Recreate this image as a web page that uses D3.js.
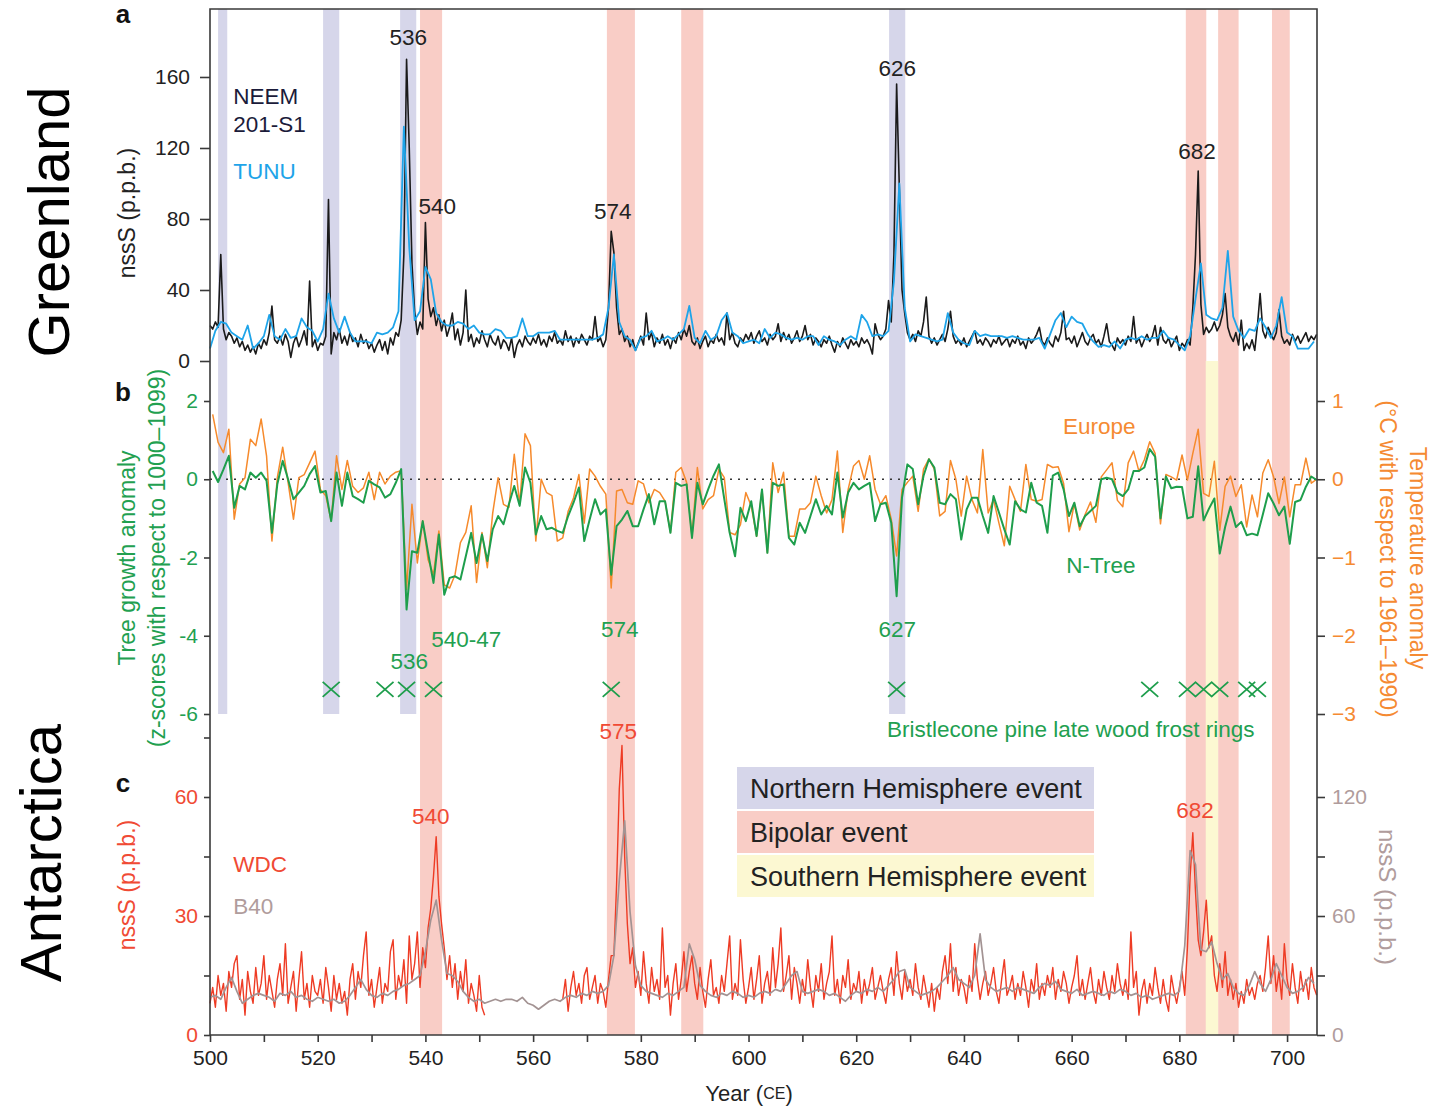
<!DOCTYPE html>
<html>
<head>
<meta charset="utf-8">
<script src="https://cdn.jsdelivr.net/npm/d3@7/dist/d3.min.js"></script>
<style>
  body { margin: 0; background: #fff; }
  svg text { font-family: "Liberation Sans", Arial, Helvetica, sans-serif; }
</style>
</head>
<body>
<script>
(function (d3) {
  "use strict";

  /***** Data *****/
  // Greenland nssS (p.p.b.), NEEM 201-S1, two samples per year from 500 CE
  var neemStart = 500, neemStep = 0.5;
  var neem = [
    20, 18, 22, 19, 60, 18, 12, 16, 14, 10,
    13, 8, 11, 6, 9, 5, 8, 4, 10, 7,
    12, 9, 16, 31, 12, 10, 14, 9, 15, 11,
    2, 10, 14, 8, 12, 17, 9, 45, 8, 12,
    6, 10, 9, 14, 91, 4, 16, 12, 18, 10,
    14, 9, 16, 11, 13, 8, 15, 10, 12, 7,
    10, 5, 9, 12, 6, 11, 4, 13, 9, 16,
    14, 23, 60, 170, 120, 55, 28, 15, 22, 18,
    78, 35, 25, 30, 20, 26, 17, 23, 14, 19,
    27, 12, 18, 9, 16, 40, 11, 15, 8, 13,
    10, 17, 12, 8, 15, 11, 9, 14, 7, 12,
    10, 6, 13, 2, 9, 12, 8, 14, 11, 9,
    13, 10, 15, 9, 12, 8, 14, 11, 16, 10,
    12, 9, 17, 11, 14, 8, 13, 10, 15, 12,
    9, 14, 12, 25, 11, 13, 8, 12, 30, 73,
    61, 30, 15, 18, 11, 14, 8, 12, 6, 10,
    14, 9, 27, 12, 16, 8, 13, 10, 15, 9,
    12, 7, 13, 10, 16, 12, 18, 14, 20, 11,
    9, 13, 7, 11, 14, 8, 12, 10, 15, 11,
    13, 9, 27, 12, 16, 10, 8, 13, 11, 15,
    12, 16, 10, 14, 17, 11, 13, 9, 15, 12,
    14, 21, 11, 16, 12, 15, 10, 13, 17, 11,
    14, 20, 12, 15, 9, 13, 11, 8, 12, 10,
    14, 9, 5, 11, 8, 13, 10, 7, 12, 9,
    11, 8, 13, 10, 12, 9, 4, 21, 15, 12,
    14, 18, 34, 22, 60, 156, 98, 40, 27, 16,
    12, 15, 11, 17, 14, 22, 36, 14, 10, 13,
    9, 12, 15, 11, 18, 28, 14, 10, 12, 9,
    13, 8, 11, 14, 17, 10, 12, 9, 13, 11,
    8, 12, 10, 14, 9, 11, 13, 8, 12, 10,
    14, 9, 11, 7, 13, 10, 12, 15, 19, 11,
    9, 13, 10, 8, 14, 11, 16, 28, 12, 13,
    10, 14, 8, 12, 16, 11, 9, 13, 15, 10,
    12, 8, 14, 21, 11, 9, 6, 13, 10, 12,
    9, 14, 11, 25, 10, 13, 8, 12, 15, 11,
    14, 20, 9, 19, 12, 10, 13, 8, 11, 14,
    6, 10, 8, 12, 9, 30, 60, 107, 32, 15,
    19, 16, 18, 22, 17, 20, 26, 38, 19, 14,
    11, 16, 9, 23, 6, 10, 7, 12, 6, 20,
    38, 17, 13, 19, 15, 12, 16, 29, 14, 10,
    12, 9, 15, 11, 14, 10, 13, 16, 11, 14, 12, 15
  ];

  // Greenland nssS (p.p.b.), TUNU, annual from 500 CE
  var tunuStart = 500;
  var tunu = [
    7, 17, 22, 21, 16, 14, 12, 20, 7, 10,
    14, 26, 14, 12, 18, 13, 14, 24, 19, 17,
    11, 18, 38, 24, 16, 25, 16, 11, 11, 11,
    10, 16, 15, 16, 19, 28, 132, 64, 23, 28,
    53, 46, 27, 22, 20, 20, 22, 21, 18, 20,
    16, 15, 15, 18, 17, 13, 13, 14, 24, 14,
    14, 16, 16, 16, 17, 12, 12, 12, 12, 12,
    12, 12, 13, 15, 30, 60, 22, 14, 12, 6,
    13, 14, 17, 11, 12, 14, 12, 15, 18, 31,
    13, 10, 17, 12, 14, 23, 27, 16, 14, 10,
    11, 12, 10, 18, 13, 16, 15, 13, 12, 13,
    12, 14, 14, 9, 14, 12, 11, 9, 12, 14,
    12, 26, 22, 14, 15, 14, 17, 45, 100, 30,
    11, 15, 14, 13, 12, 11, 12, 27, 16, 12,
    10, 9, 17, 14, 15, 14, 14, 14, 13, 14,
    13, 12, 12, 12, 13, 7, 15, 23, 27, 19,
    25, 22, 21, 15, 11, 8, 9, 8, 11, 7,
    12, 13, 12, 14, 12, 13, 13, 17, 13, 12,
    9, 6, 14, 35, 55, 26, 24, 23, 30, 62,
    25, 17, 13, 18, 17, 24, 19, 13, 20, 36,
    16, 14, 7, 7, 7, 11
  ];

  // N-Tree growth anomaly (z-scores), annual from 500 CE
  var treeStart = 500;
  var nTree = [
    0.21, -0.07, 0.25, 0.6, -0.73, -0.17, -0.26, 0.17, 0.04, 0.17,
    -0.04, -1.37, -0.13, 0.47, 0, -0.51, -0.34, -0.17, 0.13, 0.34,
    -0.34, -0.3, -1.07, 0.17, -0.68, 0.17, -0.43, -0.51, -0.6, -0.04,
    -0.13, -0.21, -0.47, -0.38, -0.09, 0.26, -3.33, -1.84, -1.88, -1.07,
    -1.88, -2.65, -1.41, -2.95, -2.52, -2.48, -2.56, -1.97, -1.37, -2.14,
    -1.41, -2.09, -1.28, -0.94, -1.15, -0.64, -0.17, -0.68, 0.3, -0.09,
    -1.41, -0.94, -1.28, -1.24, -1.32, -1.37, -0.94, -0.6, -0.21, -1.58,
    -1.03, -0.51, -0.9, -0.77, -2.44, -1.2, -1.03, -0.81, -1.2, -1.2,
    -0.77, -0.38, -1.15, -0.56, -0.56, -1.37, -0.09, -0.17, -0.13, -1.5,
    -0.09, -0.64, -0.26, 0.09, 0.38, -0.51, -1.37, -1.97, -0.73, -1.07,
    -0.56, -1.45, -0.26, -1.88, -0.09, -0.17, -0.13, -1.5, -1.67, -1.11,
    -1.37, -0.94, -0.51, -0.9, -0.68, -0.9, 0.17, -0.98, -0.34, -0.09,
    -0.26, -0.17, -0.09, -1.07, -0.64, -0.6, -1.11, -2.99, -0.47, 0.38,
    0.26, -0.64, 0.09, 0.51, 0.3, -0.6, -0.64, -0.38, -0.51, -1.54,
    -0.77, -0.47, -0.47, -0.94, -1.37, -0.43, -0.85, -1.28, -1.67, -0.56,
    -0.77, -0.85, -0.09, -0.6, -0.68, -1.37, 0.09, 0.17, -0.26, -0.94,
    -0.6, -1.2, -0.94, -0.81, -0.68, 0, 0.04, 0, -0.34, -0.43,
    -0.26, 0.21, 0.21, 0.3, 0.77, 0.58, -1.0, 0.07, -0.23, -0.19,
    -0.2, -1.0, -0.96, 0.33, -1.05, -0.75, -0.49, -1.9, -1.22, -0.7,
    -1.22, -1.09, -1.43, -1.39, -1.43, -0.9, -0.36, -0.62, -0.92, -0.7,
    -1.65, -0.58, -0.53, -0.19, 0.07, -0.02
  ];

  // Europe temperature anomaly (degC), annual from 500 CE
  var europe = [
    0.83, 0.47, 0.34, 0.64, -0.51, -0.06, 0.02, 0.51, 0.43, 0.77,
    0.3, -0.79, 0.02, 0.41, -0.04, -0.51, 0.02, 0.06, 0.21, 0.36,
    -0.13, -0.21, -0.53, 0.3, -0.13, 0.24, -0.09, -0.17, -0.11, 0.09,
    -0.26, 0.09, -0.06, 0.04, 0.09, 0.11, -1.41, -0.32, -1.07, -0.53,
    -1.03, -1.22, -0.66, -1.35, -1.39, -1.22, -0.81, -0.68, -0.34, -1.32,
    -0.68, -1.13, -0.43, 0.02, -0.32, -0.36, 0.32, -0.32, 0.58, 0.43,
    -0.79, 0, -0.17, -0.21, -0.79, -0.75, -0.41, -0.24, 0.06, -0.56,
    0.13, 0.04, -0.09, -0.19, -1.39, -0.15, -0.13, -0.3, -0.32, -0.02,
    -0.06, -0.3, -0.13, -0.17, -0.28, -0.68, 0.09, 0.15, -0.04, -0.73,
    0.15, -0.38, -0.26, -0.21, 0.13, 0.02, -0.68, -0.71, -0.58, -0.17,
    -0.34, -0.73, -0.13, -0.94, 0.21, -0.17, 0.09, -0.73, -0.73, -0.38,
    -0.38, -0.3, 0.04, -0.21, -0.43, -0.26, 0.36, -0.68, -0.13, 0.17,
    0.24, 0, 0.3, -0.13, -0.32, -0.21, -0.51, -0.98, -0.13, -0.04,
    0.04, -0.41, 0.13, 0.26, 0.13, -0.47, -0.41, 0.24, 0, -0.47,
    0.04, -0.26, -0.43, 0.38, -0.43, -0.26, -0.56, -0.85, -0.09, -0.26,
    -0.41, 0.19, -0.26, -0.28, -0.26, 0.19, 0.15, 0.16, -0.05, -0.67,
    -0.31, -0.65, -0.45, -0.29, -0.55, 0.03, 0.12, 0.21, -0.27, -0.35,
    0.21, 0.36, 0.1, 0.25, 0.48, 0.33, -0.57, 0.06, 0.03, -0.01,
    0.31, -0.01, 0.33, 0.64, -0.18, -0.22, 0.23, -0.65, -0.09, 0.04,
    -0.22, -0.07, -0.61, -0.2, -0.48, 0.08, 0.25, 0.03, -0.31, 0.03,
    -0.48, -0.07, -0.07, 0.27, -0.05, 0
  ];

  // Antarctica nssS (p.p.b.), WDC, two samples per year from 500 CE (gap 551-565)
  var wdcStart = 500, wdcStep = 0.5;
  var wdc = [
    8, 12, 7, 15, 10, 13, 6, 16, 12, 18,
    20, 9, 14, 5, 16, 11, 8, 17, 10, 13,
    20, 9, 15, 11, 7, 14, 18, 10, 23, 8,
    12, 16, 6, 14, 21, 9, 13, 7, 15, 11,
    10, 14, 8, 17, 12, 6, 15, 9, 13, 8,
    11, 5, 14, 18, 9, 16, 12, 20, 26, 10,
    14, 7, 12, 17, 8, 13, 11, 21, 24, 9,
    15, 12, 19, 8, 25, 14, 18, 26, 12, 22,
    17, 27, 32, 40, 50, 35, 28, 22, 14, 20,
    12, 18, 9, 16, 11, 19, 8, 13, 10, 6,
    15, 7, 5, null, null, null, null, null, null, null,
    null, null, null, null, null, null, null, null, null, null,
    null, null, null, null, null, null, null, null, null, null,
    null, 9, 14, 6, 12, 16, 10, 13, 8, 15,
    17, 9, 12, 15, 8, 13, 11, 7, 14, 20,
    20, 38, 62, 73, 45, 28, 18, 22, 12, 16,
    10, 21, 13, 8, 17, 11, 14, 9, 27, 12,
    15, 5, 13, 18, 9, 14, 21, 11, 16, 20,
    13, 9, 17, 11, 7, 14, 19, 10, 12, 8,
    15, 11, 18, 25, 9, 13, 10, 24, 14, 8,
    12, 17, 9, 14, 20, 8, 13, 16, 10, 22,
    12, 18, 27, 11, 15, 20, 9, 17, 13, 8,
    14, 10, 19, 12, 7, 15, 11, 18, 9, 13,
    16, 25, 10, 14, 8, 15, 12, 19, 9, 13,
    11, 16, 8, 14, 10, 13, 17, 9, 12, 15,
    11, 8, 14, 17, 10, 21, 13, 9, 16, 11,
    14, 10, 18, 12, 9, 15, 11, 7, 13, 6,
    12, 9, 16, 20, 13, 23, 11, 17, 10, 14,
    12, 8, 15, 11, 23, 14, 9, 13, 16, 10,
    13, 17, 11, 8, 14, 19, 10, 12, 15, 9,
    13, 10, 16, 12, 7, 14, 11, 18, 9, 13,
    10, 15, 12, 17, 9, 14, 11, 16, 13, 8,
    12, 15, 20, 10, 14, 9, 13, 17, 11, 8,
    14, 10, 16, 12, 9, 15, 11, 18, 13, 10,
    14, 9, 26, 12, 16, 5, 11, 14, 8, 13,
    10, 17, 12, 8, 14, 9, 6, 15, 11, 8,
    12, 16, 10, 22, 40, 51, 36, 24, 20, 26,
    34, 22, 25, 15, 11, 18, 12, 21, 10, 14,
    9, 13, 7, 11, 8, 14, 10, 12, 9, 13,
    15, 11, 17, 25, 13, 20, 11, 16, 9, 23,
    14, 10, 18, 12, 8, 16, 11, 14, 9, 17, 12, 10
  ];

  // Antarctica nssS (p.p.b.), B40 (right axis), annual from 500 CE
  var b40Start = 500;
  var b40 = [
    19, 20, 18, 24, 29, 22, 16, 18, 20, 21,
    20, 19, 17, 21, 20, 22, 19, 20, 18, 17,
    19, 18, 17, 18, 16, 17, 20, 24, 28, 23,
    20, 19, 21, 20, 22, 23, 25, 26, 28, 30,
    42, 58, 68, 48, 31, 30, 27, 22, 19, 17,
    18, 16, 17, 18, 17, 18, 18, 17, 19, 16,
    15, 13, 15, 17, 18, 17, 19, 20, 19, 21,
    20, 22, 21, 22, 25, 40, 78, 108, 62, 35,
    25, 22, 21, 20, 19, 21, 20, 22, 24, 46,
    38, 25, 22, 20, 19, 21, 20, 22, 21, 19,
    20, 19, 21, 22, 21, 23, 22, 26, 30, 32,
    22, 21, 22, 23, 22, 20, 21, 19, 17, 20,
    22, 21, 23, 22, 24, 22, 25, 28, 32, 33,
    24, 22, 20, 21, 22, 24, 27, 30, 34, 28,
    26, 24, 30, 51, 28, 24, 22, 23, 24, 22,
    24, 23, 22, 21, 24, 26, 25, 27, 23, 22,
    21, 23, 20, 21, 22, 21, 20, 22, 21, 23,
    22, 20, 21, 19, 20, 18, 19, 20, 21, 20,
    22, 45, 93, 86, 43, 42, 47, 36, 28, 31,
    24, 21, 20, 25, 32, 26, 22, 28, 36, 30,
    24, 21, 22, 24, 29, 26
  ];

  // event bands [from, to] in years CE
  var nhBands = [[501.5, 503.2], [521, 524], [535.3, 538.3], [626.1, 629.1]];
  var bipolarBands = [[539, 543.1], [573.7, 578.9], [587.5, 591.6], [681.2, 685], [687.2, 691], [697.2, 700.5]];
  var shBands = [[684.9, 687.2]];

  // bristlecone pine late wood frost rings
  var frostYears = [522, 532, 536, 541, 574, 627, 674, 681, 684, 687, 692, 694];

  // peak annotations (year, value in each panel's units)
  var greenlandPeaks = [
    { label: "536", year: 536.8, value: 182 },
    { label: "540", year: 542.2, value: 87 },
    { label: "574", year: 574.8, value: 84 },
    { label: "626", year: 627.6, value: 164.5 },
    { label: "682", year: 683.3, value: 118 }
  ];
  var treeNotes = [
    { label: "536", year: 537, value: -4.65 },
    { label: "540-47", year: 547.6, value: -4.09 },
    { label: "574", year: 576.1, value: -3.84 },
    { label: "627", year: 627.6, value: -3.84 }
  ];
  var antarcticPeaks = [
    { label: "540", year: 541, value: 55 },
    { label: "575", year: 575.8, value: 76.4 },
    { label: "682", year: 682.9, value: 56.5 }
  ];

  var legendLabels = ["Northern Hemisphere event", "Bipolar event", "Southern Hemisphere event"];

  var xTicks = d3.range(500, 701, 10);
  var yATicks = [0, 40, 80, 120, 160];
  var yBTicks = [2, 0, -2, -4, -6];
  var yBTTicks = [1, 0, -1, -2, -3];
  var yCTicks = [0, 15, 30, 45, 60, 75];
  var yCRTicks = [0, 30, 60, 90, 120];

  /***** Configuration *****/
  var W = 1439, H = 1106;
  var margin = { top: 9, right: 122, bottom: 71, left: 210 };
  var annualOffset = 0.5; // tree-ring annual values plotted at mid-year
  var font = "'Liberation Sans', Arial, Helvetica, sans-serif";
  var noteSize = 22.5;

  var colors = {
    nh: "#d6d6ea", bipolar: "#f9cdc6", sh: "#fcf8d2",
    neem: "#1a1a1a", tunu: "#1ea4e9", europe: "#f68a2c", tree: "#1e9e4c",
    wdc: "#ee3b24", b40: "#a39393", axis: "#3a3a3a", text: "#222",
    treeText: "#22a050", europeText: "#f58a32", wdcText: "#f04a34", b40Text: "#b09c9c"
  };

  /***** Scales *****/
  var x = d3.scaleLinear().domain([500, 705.56]).range([margin.left, W - margin.right]);
  var yA = d3.scaleLinear().domain([0, 198.3]).range([361, margin.top]);
  var yB = d3.scaleLinear().domain([-6, 2]).range([714, 401]);
  var yBT = d3.scaleLinear().domain([-3, 1]).range([714, 401]);
  var yC = d3.scaleLinear().domain([0, 60]).range([H - margin.bottom, 797]);
  var yCR = d3.scaleLinear().domain([0, 120]).range([H - margin.bottom, 797]);

  var svg = d3.select("body").append("svg")
    .attr("width", W).attr("height", H)
    .style("font-family", font);

  /***** Event bands *****/
  var bands = svg.append("g");
  bands.selectAll(".nh").data(nhBands).enter().append("rect")
    .attr("x", function (d) { return x(d[0]); })
    .attr("width", function (d) { return x(d[1]) - x(d[0]); })
    .attr("y", yA(198.3))
    .attr("height", yB(-6) - yA(198.3))
    .attr("fill", colors.nh);
  bands.selectAll(".bi").data(bipolarBands).enter().append("rect")
    .attr("x", function (d) { return x(d[0]); })
    .attr("width", function (d) { return x(d[1]) - x(d[0]); })
    .attr("y", yA(198.3))
    .attr("height", yC(0) - yA(198.3))
    .attr("fill", colors.bipolar);
  bands.selectAll(".sh").data(shBands).enter().append("rect")
    .attr("x", function (d) { return x(d[0]); })
    .attr("width", function (d) { return x(d[1]) - x(d[0]); })
    .attr("y", yA(0))
    .attr("height", yC(0) - yA(0))
    .attr("fill", colors.sh);

  /***** Series helpers *****/
  function toSeries(values, start, step, offset) {
    return values.map(function (v, i) { return { year: start + i * step + offset, value: v }; });
  }
  function drawLine(data, yScale, color, width) {
    var line = d3.line()
      .defined(function (d) { return d.value !== null; })
      .x(function (d) { return x(d.year); })
      .y(function (d) { return yScale(d.value); });
    svg.append("path").datum(data)
      .attr("d", line)
      .attr("fill", "none")
      .attr("stroke", color)
      .attr("stroke-width", width)
      .attr("stroke-linejoin", "round");
  }

  // zero line of panel b
  svg.append("line")
    .attr("x1", x(500)).attr("x2", x(705.56))
    .attr("y1", yB(0)).attr("y2", yB(0))
    .attr("stroke", "#333").attr("stroke-width", 1.6)
    .attr("stroke-dasharray", "2,6");

  /***** Panel a: Greenland *****/
  drawLine(toSeries(neem, neemStart, neemStep, 0), yA, colors.neem, 1.6);
  drawLine(toSeries(tunu, tunuStart, 1, 0), yA, colors.tunu, 1.8);

  /***** Panel b: trees *****/
  drawLine(toSeries(europe, treeStart, 1, annualOffset), yBT, colors.europe, 1.5);
  drawLine(toSeries(nTree, treeStart, 1, annualOffset), yB, colors.tree, 2);

  svg.append("g").selectAll("path").data(frostYears).enter().append("path")
    .attr("transform", function (d) { return "translate(" + x(d + annualOffset) + "," + yB(-5.37) + ")"; })
    .attr("d", "M-8.5,-7.5L8.5,7.5M-8.5,7.5L8.5,-7.5")
    .attr("stroke", colors.tree).attr("stroke-width", 1.8).attr("fill", "none");

  /***** Panel c: Antarctica *****/
  drawLine(toSeries(wdc, wdcStart, wdcStep, 0), yC, colors.wdc, 1.4);
  drawLine(toSeries(b40, b40Start, 1, 0), yCR, colors.b40, 1.7);

  /***** Frame and axes *****/
  svg.append("path")
    .attr("d", "M" + x.range()[0] + "," + yC(0) + "V" + yA(198.3) + "H" + x.range()[1] + "V" + yC(0))
    .attr("fill", "none").attr("stroke", colors.axis).attr("stroke-width", 1.6);

  function styleAxis(g, color) {
    g.attr("font-family", font).attr("font-size", 21);
    g.select(".domain").remove();
    g.selectAll(".tick line").attr("stroke", colors.axis).attr("stroke-width", 1.6);
    g.selectAll(".tick text").attr("fill", color);
  }

  svg.append("g").attr("transform", "translate(" + margin.left + ",0)")
    .call(d3.axisLeft(yA).tickValues(yATicks).tickSize(10).tickPadding(10))
    .call(styleAxis, colors.text);
  svg.append("g").attr("transform", "translate(" + margin.left + ",0)")
    .call(d3.axisLeft(yB).tickValues(yBTicks).tickSize(6).tickPadding(6)
      .tickFormat(function (d) { return String(d); }))
    .call(styleAxis, colors.treeText);
  svg.append("g").attr("transform", "translate(" + margin.left + ",0)")
    .call(d3.axisLeft(yC).tickValues(yCTicks).tickSize(6).tickPadding(6)
      .tickFormat(function (d) { return d % 30 === 0 ? d : ""; }))
    .call(styleAxis, colors.wdcText);

  var right = W - margin.right;
  svg.append("g").attr("transform", "translate(" + right + ",0)")
    .call(d3.axisRight(yBT).tickValues(yBTTicks).tickSize(8).tickPadding(7)
      .tickFormat(function (d) { return d < 0 ? "\u2212" + Math.abs(d) : d; }))
    .call(styleAxis, colors.europeText);
  svg.append("g").attr("transform", "translate(" + right + ",0)")
    .call(d3.axisRight(yCR).tickValues(yCRTicks).tickSize(8).tickPadding(7)
      .tickFormat(function (d) { return d % 60 === 0 ? d : ""; }))
    .call(styleAxis, colors.b40Text);

  svg.append("g").attr("transform", "translate(0," + yC(0) + ")")
    .call(d3.axisBottom(x).tickValues(xTicks).tickSize(7).tickPadding(8)
      .tickFormat(function (d) { return d % 20 === 0 ? d : ""; }))
    .call(styleAxis, colors.text);

  svg.append("line")
    .attr("x1", x.range()[0]).attr("x2", x.range()[1])
    .attr("y1", yC(0)).attr("y2", yC(0))
    .attr("stroke", colors.axis).attr("stroke-width", 1.6);

  /***** Text *****/
  function label(txt, px, py, opts) {
    opts = opts || {};
    var t = svg.append("text")
      .attr("x", px).attr("y", py)
      .attr("fill", opts.color || colors.text)
      .attr("font-size", opts.size || noteSize)
      .attr("font-weight", opts.weight || "normal")
      .attr("text-anchor", opts.anchor || "start")
      .attr("dominant-baseline", "central")
      .text(txt);
    if (opts.rotate) {
      t.attr("x", 0).attr("y", 0)
        .attr("transform", "translate(" + px + "," + py + ") rotate(" + opts.rotate + ")");
    }
    return t;
  }

  // region titles
  label("Greenland", 48, 222, { size: 58, anchor: "middle", rotate: -90, color: "#000" });
  label("Antarctica", 40, 853, { size: 58, anchor: "middle", rotate: -90, color: "#000" });

  // panel letters
  label("a", 123, 14, { size: 26, weight: "bold", anchor: "middle", color: "#111" });
  label("b", 123, 392, { size: 26, weight: "bold", anchor: "middle", color: "#111" });
  label("c", 123, 783, { size: 26, weight: "bold", anchor: "middle", color: "#111" });

  // axis titles
  label("nssS (p.p.b.)", 127, 213, { size: 23, anchor: "middle", rotate: -90, color: colors.text });
  label("Tree growth anomaly", 127, 558, { size: 23, anchor: "middle", rotate: -90, color: colors.treeText });
  label("(z-scores with respect to 1000\u20131099)", 157, 558, { size: 23, anchor: "middle", rotate: -90, color: colors.treeText });
  label("nssS (p.p.b.)", 127, 885, { size: 23, anchor: "middle", rotate: -90, color: colors.wdcText });
  label("Temperature anomaly", 1418, 558, { size: 23, anchor: "middle", rotate: 90, color: colors.europeText });
  label("(\u00b0C with respect to 1961\u20131990)", 1388, 559, { size: 23, anchor: "middle", rotate: 90, color: colors.europeText });
  label("nssS (p.p.b.)", 1387, 897, { size: 24, anchor: "middle", rotate: 90, color: colors.b40Text });

  var yearLabel = svg.append("text")
    .attr("x", 749).attr("y", 1093)
    .attr("text-anchor", "middle").attr("dominant-baseline", "central")
    .attr("fill", colors.text).attr("font-size", 22);
  yearLabel.append("tspan").text("Year (");
  yearLabel.append("tspan").attr("font-size", 16).text("CE");
  yearLabel.append("tspan").text(")");

  // series names
  label("NEEM", x(504.3), yA(149), { color: "#1b1b3a" });
  label("201-S1", x(504.3), yA(133), { color: "#1b1b3a" });
  label("TUNU", x(504.3), yA(106.5), { color: colors.tunu });
  label("Europe", x(658.4), yB(1.36), { color: colors.europeText });
  label("N-Tree", x(659), yB(-2.2), { color: colors.treeText });
  label("Bristlecone pine late wood frost rings", x(625.7), yB(-6.4), { color: colors.treeText });
  label("WDC", x(504.3), yC(42.9), { color: colors.wdcText });
  label("B40", x(504.3), yC(32.5), { color: colors.b40Text });

  greenlandPeaks.forEach(function (p) {
    label(p.label, x(p.year), yA(p.value), { anchor: "middle" });
  });
  treeNotes.forEach(function (p) {
    label(p.label, x(p.year), yB(p.value), { anchor: "middle", color: colors.treeText });
  });
  antarcticPeaks.forEach(function (p) {
    label(p.label, x(p.year), yC(p.value), { anchor: "middle", color: colors.wdcText });
  });

  /***** Legend *****/
  var legendColors = [colors.nh, colors.bipolar, colors.sh];
  var legend = svg.append("g").attr("transform", "translate(737,767)");
  var rowH = 42, gap = 2, legendW = 357;
  legendLabels.forEach(function (txt, i) {
    legend.append("rect")
      .attr("x", 0).attr("y", i * (rowH + gap))
      .attr("width", legendW).attr("height", rowH)
      .attr("fill", legendColors[i]);
    legend.append("text")
      .attr("x", 13).attr("y", i * (rowH + gap) + rowH / 2 + 1)
      .attr("dominant-baseline", "central")
      .attr("font-size", 27).attr("fill", colors.text)
      .text(txt);
  });

})(d3);
</script>
</body>
</html>
